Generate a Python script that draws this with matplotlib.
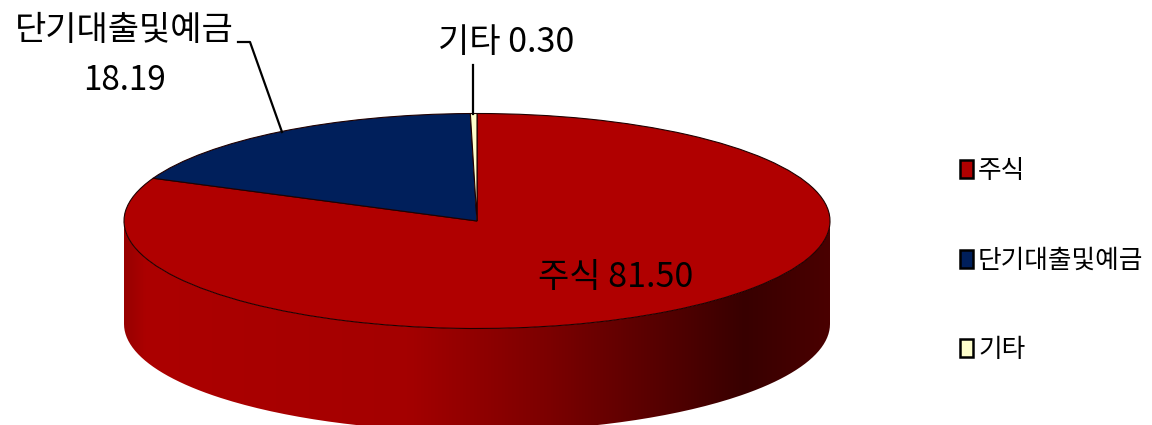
import numpy as np
import matplotlib
matplotlib.use('Agg')
import matplotlib.pyplot as plt
from matplotlib.colors import LinearSegmentedColormap
from matplotlib.patches import PathPatch
from matplotlib.path import Path

plt.rcParams['font.family'] = ['Noto Sans CJK KR', 'DejaVu Sans']

labels = ['주식', '단기대출및예금', '기타']
values = [81.50, 18.19, 0.30]
colors = ['#b00000', '#001f5b', '#ffffcc']

W, H = 1152, 425
CX, CY = 477, 221
RX, RY = 353, 107.5
DEPTH = 103 / RY

fig = plt.figure(figsize=(W / 100, H / 100), dpi=100)
ax = fig.add_axes([0, 0, 1, 1])

# side wall of the pie, shaded left to right
t = np.linspace(np.pi, 2 * np.pi, 200)
wall_x = np.concatenate([np.cos(t), np.cos(t[::-1])])
wall_y = np.concatenate([np.sin(t) - DEPTH, np.sin(t[::-1])])
wall = PathPatch(Path(np.column_stack([wall_x, wall_y])), fc='none', ec='none')
ax.add_patch(wall)
shade = LinearSegmentedColormap.from_list('shade', [
    (0.00, '#980000'), (0.03, '#ac0000'), (0.40, '#a40000'), (0.60, '#7c0000'),
    (0.80, '#4c0000'), (0.88, '#380000'), (1.00, '#4a0000')])
img = ax.imshow(np.linspace(0, 1, 256)[None, :], cmap=shade, aspect='auto',
                extent=(-1, 1, -1 - DEPTH, 0.1), zorder=1)
img.set_clip_path(wall)

wedges, _ = ax.pie(values, colors=colors, startangle=90, counterclock=False,
                   radius=1, wedgeprops=dict(edgecolor='#200000', linewidth=0.8, zorder=2))
ax.set_aspect('auto')
ax.set_xlim(-CX / RX, (W - CX) / RX)
ax.set_ylim((CY - H) / RY, CY / RY)

# labels and leader lines in pixel coordinates
top = fig.add_axes([0, 0, 1, 1])
top.set_xlim(0, W)
top.set_ylim(H, 0)
top.axis('off')
top.patch.set_alpha(0)

top.text(124, 30, labels[1], fontsize=24.5, ha='center', va='center')
top.text(124, 80, f'{values[1]:.2f}', fontsize=24, ha='center', va='center')
top.text(506, 42, f'{labels[2]} {values[2]:.2f}', fontsize=24.5, ha='center', va='center')
top.text(616, 277, f'{labels[0]} {values[0]:.2f}', fontsize=24.5, ha='center', va='center')

top.plot([238, 250, 282], [42, 42, 132], color='black', lw=1.6)
top.plot([473, 473], [65, 114], color='black', lw=1.6)

leg = fig.legend(wedges, labels, loc='upper left', bbox_to_anchor=(960 / W, 1 - 158 / H),
                 bbox_transform=fig.transFigure, frameon=False, fontsize=18.5,
                 borderpad=0, borderaxespad=0, handlelength=0.5, handleheight=0.7,
                 handletextpad=0.2, labelspacing=2.48)
for h in leg.legend_handles:
    h.set_edgecolor('black')
    h.set_linewidth(1.8)

fig.savefig('out.png', dpi=100)
